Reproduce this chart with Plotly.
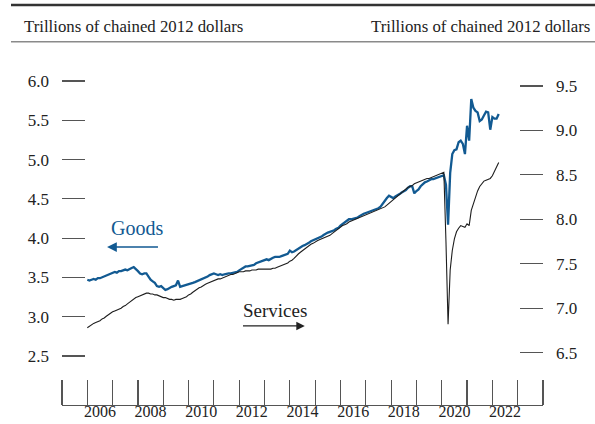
import plotly.graph_objects as go

# ---- data (monthly, Jan 2006 - Apr 2022), trillions of chained 2012 dollars ----
start_year = 2006
goods = [
    3.47, 3.46, 3.47, 3.48, 3.47, 3.49, 3.49, 3.50, 3.52, 3.53, 3.54, 3.55,
    3.56, 3.57, 3.56, 3.58, 3.58, 3.59, 3.60, 3.59, 3.61, 3.62, 3.63, 3.61,
    3.58, 3.55, 3.54, 3.55, 3.55, 3.51, 3.47, 3.45, 3.43, 3.39, 3.38, 3.39,
    3.37, 3.34, 3.35, 3.37, 3.38, 3.39, 3.40, 3.46, 3.38, 3.39, 3.40, 3.40,
    3.41, 3.42, 3.43, 3.44, 3.45, 3.47, 3.47, 3.48, 3.50, 3.51, 3.53, 3.54,
    3.55, 3.54, 3.53, 3.54, 3.53, 3.54, 3.55, 3.55, 3.55, 3.56, 3.56, 3.57,
    3.59, 3.61, 3.63, 3.64, 3.64, 3.65, 3.65, 3.66, 3.68, 3.69, 3.71, 3.72,
    3.73, 3.73, 3.72, 3.74, 3.75, 3.76, 3.76, 3.76, 3.77, 3.78, 3.79, 3.80,
    3.84, 3.82, 3.83, 3.85, 3.86, 3.88, 3.90, 3.91, 3.92, 3.94, 3.96, 3.97,
    3.99, 4.00, 4.01, 4.02, 4.04, 4.05, 4.07, 4.08, 4.09, 4.10, 4.12, 4.13,
    4.16, 4.18, 4.20, 4.22, 4.24, 4.24, 4.25, 4.25, 4.26, 4.28, 4.30, 4.31,
    4.32, 4.33, 4.33, 4.34, 4.35, 4.37, 4.38, 4.40, 4.44, 4.47, 4.51, 4.54,
    4.52, 4.51, 4.53, 4.54, 4.56, 4.58, 4.59, 4.61, 4.64, 4.66, 4.66, 4.57,
    4.60, 4.62, 4.66, 4.69, 4.71, 4.72, 4.74, 4.75, 4.75, 4.76, 4.77, 4.78,
    4.79, 4.80, 4.68, 4.17, 4.83, 5.07, 5.12, 5.13, 5.22, 5.24, 5.20, 5.07,
    5.43, 5.24, 5.77, 5.66, 5.62, 5.60, 5.49, 5.51, 5.56, 5.61, 5.60, 5.38,
    5.54, 5.52, 5.52, 5.58,
]
services = [
    6.78, 6.80, 6.81, 6.83, 6.84, 6.85, 6.86, 6.88, 6.89, 6.91, 6.93, 6.94,
    6.96, 6.97, 6.98, 6.99, 7.00, 7.02, 7.03, 7.05, 7.07, 7.08, 7.10, 7.12,
    7.13, 7.14, 7.15, 7.16, 7.17, 7.17, 7.16, 7.16, 7.15, 7.15, 7.14, 7.13,
    7.12, 7.12, 7.11, 7.10, 7.10, 7.09, 7.10, 7.10, 7.10, 7.11, 7.12, 7.13,
    7.15, 7.16, 7.18, 7.20, 7.21, 7.23, 7.24, 7.26, 7.27, 7.28, 7.29, 7.30,
    7.31, 7.32, 7.33, 7.33, 7.34, 7.35, 7.36, 7.37, 7.38, 7.38, 7.39, 7.40,
    7.41, 7.41, 7.41, 7.42, 7.42, 7.42, 7.43, 7.43, 7.43, 7.44, 7.44, 7.44,
    7.44, 7.44, 7.44, 7.44, 7.45, 7.45, 7.46, 7.47, 7.48, 7.49, 7.50, 7.51,
    7.53, 7.54, 7.56, 7.59, 7.61, 7.63, 7.65, 7.67, 7.69, 7.70, 7.72, 7.73,
    7.75, 7.76, 7.77, 7.78, 7.79, 7.80, 7.81, 7.82, 7.84, 7.86, 7.88, 7.90,
    7.92, 7.93, 7.94, 7.95, 7.97, 7.98, 7.99, 8.00, 8.01, 8.02, 8.03, 8.04,
    8.05, 8.06, 8.07, 8.08, 8.09, 8.10, 8.11, 8.12, 8.13, 8.14, 8.16, 8.18,
    8.21, 8.23, 8.25, 8.27, 8.29, 8.31, 8.32, 8.34, 8.36, 8.37, 8.38, 8.40,
    8.41, 8.42, 8.43, 8.44, 8.45, 8.46, 8.46, 8.47, 8.48, 8.49, 8.50, 8.51,
    8.52, 8.53, 7.75, 6.82, 7.43, 7.65, 7.78, 7.86, 7.90, 7.93, 7.92, 7.91,
    7.95, 7.93, 8.10, 8.18, 8.25, 8.32, 8.37, 8.40, 8.43, 8.44, 8.45, 8.46,
    8.49, 8.54, 8.59, 8.64,
]
left_ticks = [2.5, 3.0, 3.5, 4.0, 4.5, 5.0, 5.5, 6.0]
right_ticks = [6.5, 7.0, 7.5, 8.0, 8.5, 9.0, 9.5]
year_labels = ["2006", "2008", "2010", "2012", "2014", "2016", "2018", "2020", "2022"]
header_text = "Trillions of chained 2012 dollars"

x_dates = [start_year + i / 12 for i in range(len(goods))]

W, H = 595, 424
ML, MR, MT, MB = 62, 52, 60, 19
pw, ph = W - ML - MR, H - MT - MB

def px2paper_x(px):
    return (px - ML) / pw

def px2paper_y(py):
    return (H - MB - py) / ph

FONT = "Liberation Serif, Times New Roman, serif"
BLUE = "#125a92"
AX = "#555555"

fig = go.Figure()
fig.add_trace(go.Scatter(x=x_dates, y=services, mode="lines", yaxis="y2",
                         line=dict(color="#1e1e1e", width=1.1), name="Services",
                         hoverinfo="skip"))
fig.add_trace(go.Scatter(x=x_dates, y=goods, mode="lines", yaxis="y",
                         line=dict(color=BLUE, width=2.3), name="Goods",
                         hoverinfo="skip"))

fig.update_layout(
    template="none",
    width=W, height=H,
    margin=dict(l=ML, r=MR, t=MT, b=MB, pad=0, autoexpand=False),
    paper_bgcolor="white", plot_bgcolor="white",
    showlegend=False,
    font=dict(family=FONT, color="#222222"),
    xaxis=dict(
        range=[2005, 2024], showgrid=False, zeroline=False, automargin=False,
        showline=True, linecolor=AX, linewidth=1.3,
        tickmode="array",
        tickvals=[int(s) + 0.5 for s in year_labels],
        ticktext=year_labels, ticks="",
        ticklabelstandoff=-9,
        tickfont=dict(family=FONT, size=16, color="#222222"),
        minor=dict(tickmode="linear", tick0=2005, dtick=1, ticks="inside",
                   ticklen=25, tickcolor=AX, tickwidth=1.2, showgrid=False),
    ),
    yaxis=dict(
        range=[1.876, 6.267], showgrid=False, zeroline=False, showline=False,
        automargin=False,
        tickmode="array", tickvals=left_ticks, tickformat=".1f",
        ticks="inside", ticklen=23, tickcolor=AX, tickwidth=1.2,
        ticklabelstandoff=12,
        tickfont=dict(family=FONT, size=17, color="#222222"),
    ),
    yaxis2=dict(
        range=[5.912, 9.792], overlaying="y", side="right",
        showgrid=False, zeroline=False, showline=False, automargin=False,
        tickmode="array", tickvals=right_ticks, tickformat=".1f",
        ticks="inside", ticklen=23, tickcolor=AX, tickwidth=1.2,
        ticklabelstandoff=12,
        tickfont=dict(family=FONT, size=17, color="#222222"),
    ),
)

# header rules
fig.add_shape(type="line", xref="paper", yref="paper",
              x0=px2paper_x(11), x1=px2paper_x(595), y0=px2paper_y(5), y1=px2paper_y(5),
              line=dict(color="#333333", width=2.6))
fig.add_shape(type="line", xref="paper", yref="paper",
              x0=px2paper_x(11), x1=px2paper_x(595), y0=px2paper_y(41.7), y1=px2paper_y(41.7),
              line=dict(color="#8a8a8a", width=1.6))

# header texts
fig.add_annotation(text=header_text, xref="paper", yref="paper",
                   x=px2paper_x(22), y=px2paper_y(26.5), xanchor="left", yanchor="middle",
                   showarrow=False, font=dict(family=FONT, size=16.8, color="#222222"))
fig.add_annotation(text=header_text, xref="paper", yref="paper",
                   x=px2paper_x(592), y=px2paper_y(26.5), xanchor="right", yanchor="middle",
                   showarrow=False, font=dict(family=FONT, size=16.8, color="#222222"))

# series labels with arrows
fig.add_annotation(text="Goods", x=2007.96, y=4.13, xref="x", yref="y",
                   showarrow=False, font=dict(family=FONT, size=20, color=BLUE))
fig.add_annotation(text="", x=2006.78, y=3.887, ax=2008.85, ay=3.887,
                   xref="x", yref="y", axref="x", ayref="y",
                   showarrow=True, arrowhead=2, arrowsize=1.3, arrowwidth=1.5,
                   arrowcolor=BLUE)
fig.add_annotation(text="Services", x=2013.42, y=3.085, xref="x", yref="y",
                   showarrow=False, font=dict(family=FONT, size=19, color="#222222"))
fig.add_annotation(text="", x=2014.59, y=2.882, ax=2012.09, ay=2.882,
                   xref="x", yref="y", axref="x", ayref="y",
                   showarrow=True, arrowhead=2, arrowsize=1.3, arrowwidth=1.3,
                   arrowcolor="#222222")

fig.write_html(
    "out.html",
    config={"displayModeBar": False, "staticPlot": True},
    post_script="document.body.style.margin='0';document.body.style.padding='0';"
                "document.body.style.overflow='hidden';",
)
